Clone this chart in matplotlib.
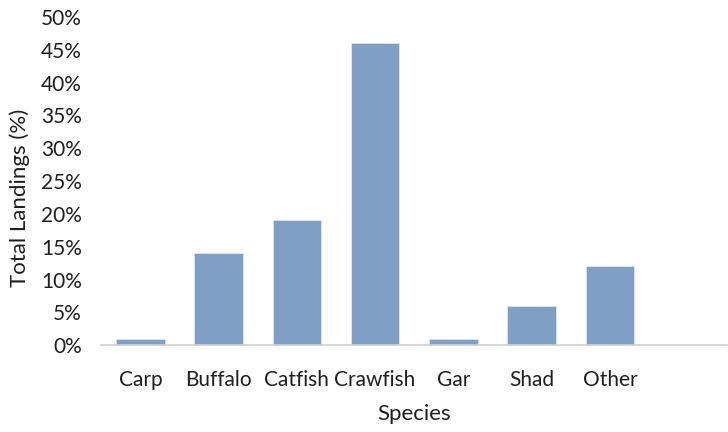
import numpy as np
import matplotlib.pyplot as plt
from matplotlib.ticker import PercentFormatter

species = ["Carp", "Buffalo", "Catfish", "Crawfish", "Gar", "Shad", "Other", ""]
landings = [1, 14, 19, 46, 1, 6, 12, 0]

plt.rcParams['font.family'] = ['Lato', 'DejaVu Sans']

fig = plt.figure(figsize=(7.28, 4.32), dpi=100)
ax = fig.add_axes([0.139, 0.201, 0.86, 0.76])

x = np.arange(len(species))
ax.bar(x, landings, width=0.62, color='#7f9fc5', edgecolor='#dce6f2', linewidth=0.6)

ax.set_xlim(-0.5, len(species) - 0.5)
ax.set_ylim(0, 50)
ax.set_yticks(np.arange(0, 51, 5))
ax.yaxis.set_major_formatter(PercentFormatter(decimals=0))
ax.set_xticks(x)
ax.set_xticklabels(species)

for side in ['left', 'right', 'top']:
    ax.spines[side].set_visible(False)
ax.spines['bottom'].set_color('#d0d0d0')
ax.spines['bottom'].set_linewidth(1.2)
ax.tick_params(length=0, labelsize=15, colors='#1f1f1f')
ax.tick_params(axis='x', pad=18)
ax.tick_params(axis='y', pad=14)

ax.set_xlabel("Species", fontsize=16, color='#1f1f1f', labelpad=10)
ax.set_ylabel("Total Landings (%)", fontsize=16, color='#1f1f1f')
ax.yaxis.set_label_coords(-0.113, 0.45)

fig.savefig("out.png", dpi=100)
